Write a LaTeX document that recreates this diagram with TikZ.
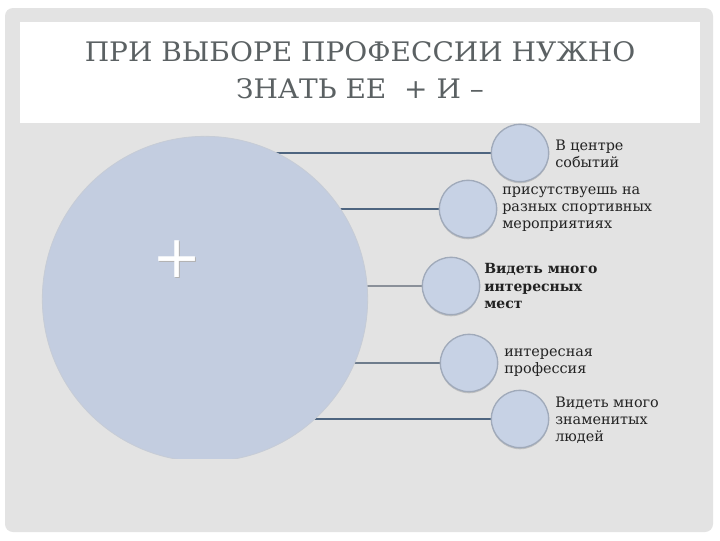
\documentclass[tikz,border=0pt]{standalone}
\usepackage{fontspec}
\setmainfont{Liberation Serif}
\newfontfamily\labfont{DejaVu Serif}
\usetikzlibrary{shadows}
\definecolor{panelgrey}{HTML}{E3E3E3}
\definecolor{bigfill}{HTML}{C3CDE0}
\definecolor{smallfill}{HTML}{C7D2E5}
\definecolor{smalledge}{HTML}{A0AABA}
\definecolor{linkdark}{HTML}{4E6580}
\definecolor{linkmid}{HTML}{6E7C8C}
\definecolor{linklight}{HTML}{8A9099}
\definecolor{titlegrey}{HTML}{5B6163}
\definecolor{labgrey}{HTML}{222222}
\begin{document}
\begin{tikzpicture}[x=0.75pt,y=-0.75pt,
  bigcircle/.style={circle, fill=bigfill, draw=smalledge!60, line width=0.6pt, minimum size=244pt, inner sep=0pt},
  smallcircle/.style={circle, fill=smallfill, draw=smalledge, line width=1pt, minimum size=43pt, inner sep=0pt,
     drop shadow={shadow xshift=0pt, shadow yshift=-1.2pt, opacity=0.35, fill=gray}},
  link/.style={line width=1.5pt},
  lab/.style={anchor=west, align=left, inner sep=0pt, text=labgrey, font=\labfont\fontsize{10.8}{12.9}\selectfont},
  titletext/.style={align=center, text=titlegrey, inner sep=0pt, font=\labfont\fontsize{21}{27.75}\selectfont},
  plustext/.style={inner sep=0pt, font=\labfont\fontsize{44}{44}\selectfont}
]
\useasboundingbox (0,0) rectangle (720,540);
\fill[white] (0,0) rectangle (720,540);
\fill[panelgrey, rounded corners=6pt] (5,8) rectangle (713,532);
\fill[white] (20,22) rectangle (700,123);
\node[titletext] (title) at (360,73) {\scalebox{1.0}[0.96]{\begin{tabular}{@{}c@{}}ПРИ ВЫБОРЕ ПРОФЕССИИ НУЖНО\\[1pt]ЗНАТЬ ЕЕ \ + И –\end{tabular}}};

\coordinate (bigc) at (205,299);
\coordinate (c1) at (520,153);
\coordinate (c2) at (468,209);
\coordinate (c3) at (451,286);
\coordinate (c4) at (469,363);
\coordinate (c5) at (520,419);

\draw[link, linkdark] (bigc |- c1) -- (c1);
\draw[link, linkdark] (bigc |- c2) -- (c2);
\draw[link, linklight] (bigc |- c3) -- (c3);
\draw[link, linkmid] (bigc |- c4) -- (c4);
\draw[link, linkdark] (bigc |- c5) -- (c5);

\begin{scope}
  \clip (0,0) rectangle (720,458);
  \node[bigcircle] (big) at (bigc) {};
\end{scope}
\node[plustext, text=gray!60] (plusshadow) at (178,260) {+};
\node[plustext, text=white] (plus) at (177,259) {+};

\node[smallcircle] (s1) at (c1) {};
\node[smallcircle] (s2) at (c2) {};
\node[smallcircle] (s3) at (c3) {};
\node[smallcircle] (s4) at (c4) {};
\node[smallcircle] (s5) at (c5) {};

\node[lab] (t1) at (555,154) {В центре\\событий};
\node[lab] (t2) at (502,209) {присутствуешь на\\разных спортивных\\мероприятиях};
\node[lab, font=\labfont\bfseries\fontsize{10.5}{12.9}\selectfont] (t3) at (484,286) {Видеть много\\интересных\\мест};
\node[lab] (t4) at (504,363) {интересная\\профессия};
\node[lab] (t5) at (555,420) {Видеть много\\знаменитых\\людей};
\end{tikzpicture}
\end{document}
